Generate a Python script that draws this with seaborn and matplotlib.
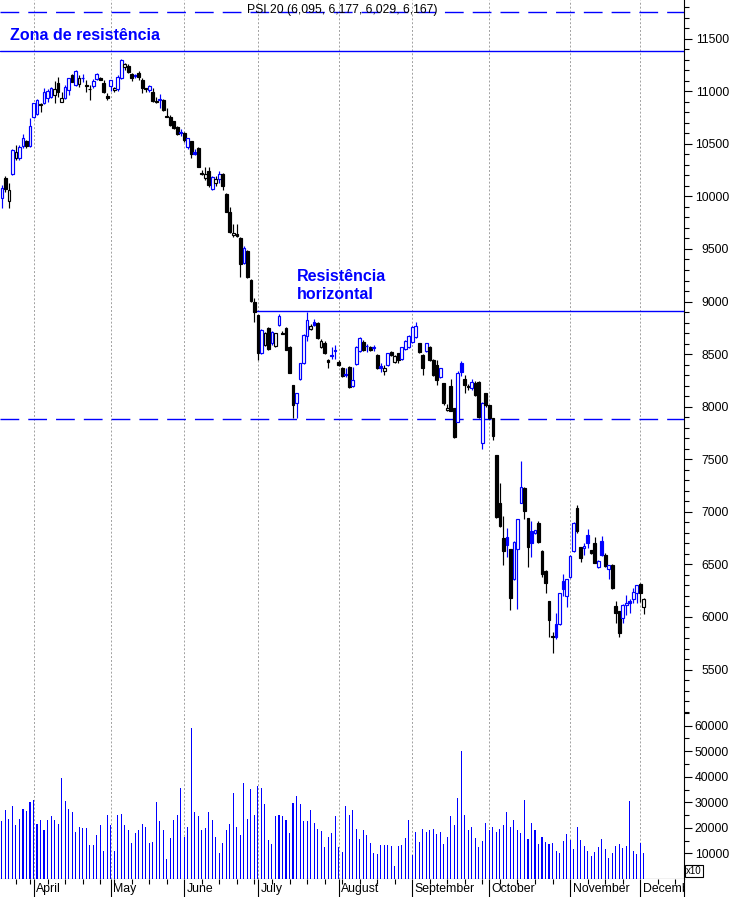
import numpy as np
import pandas as pd
import seaborn as sns
import matplotlib
matplotlib.use("Agg")
import matplotlib.pyplot as plt
from matplotlib.ticker import FixedLocator, StrMethodFormatter

sns.set_theme(style="white")
plt.rcParams['font.family'] = ['Liberation Sans', 'DejaVu Sans']

BLUE = "#0000ff"

# trading days of Euronext Lisbon, 2008
closed_days = pd.to_datetime(["2008-03-21", "2008-03-24", "2008-05-01",
                              "2008-12-25", "2008-12-26"])
cal = pd.bdate_range("2008-03-17", "2008-12-31")
cal = cal[~cal.isin(closed_days)]

# daily PSI 20 candles
opens = [9982, 10172, 9956, 10210, 10368, 10362, 10475, 10527, 10482, 10758,
         10780, 10880, 10886, 10935, 10948, 10965, 11075, 10901, 10939, 11012,
         11155, 11060, 11066, 11130, 11055, 11025, 11053, 11117, 11130, 11075,
         10958, 11053, 11012, 11025, 11130, 11234, 11240, 11161, 11150, 11171,
         11107, 11030, 11012, 10990, 10910, 10930, 10917, 10760, 10752, 10717,
         10663, 10615, 10600, 10473, 10527, 10419, 10457, 10225, 10172, 10242,
         10068, 10125, 10163, 10210, 10023, 9855, 9633, 9640, 9602, 9364,
         9481, 9205, 8998, 8872, 8508, 8587, 8746, 8609, 8577, 8777,
         8705, 8746, 8570, 8206, 8038, 8260, 8413, 8672, 8740, 8808,
         8793, 8571, 8609, 8445, 8490, 8540, 8428, 8365, 8310, 8380,
         8200, 8406, 8533, 8618, 8580, 8570, 8565, 8492, 8385, 8340,
         8396, 8523, 8428, 8508, 8450, 8546, 8565, 8618, 8660, 8603,
         8492, 8533, 8570, 8444, 8400, 8280, 8222, 7969, 8197, 7985,
         7857, 8413, 8260, 8200, 8175, 8228, 8238, 7652, 8127, 8016,
         7890, 7540, 7081, 6748, 6758, 6644, 6358, 6644, 7087, 7229,
         6939, 6820, 6796, 6897, 6630, 6440, 6152, 5815, 5933, 5933,
         6345, 6199, 6383, 6627, 7033, 6668, 6653, 6780, 6637, 6701,
         6472, 6723, 6589, 6460, 6494, 6104, 6060, 5993, 6115, 6150,
         6168, 6231, 6311, 6095]
highs = [10108, 10190, 10125, 10450, 10489, 10490, 10591, 10540, 10743, 10890,
         10925, 10886, 11028, 11020, 11040, 11098, 11139, 10996, 11060, 11130,
         11160, 11200, 11155, 11161, 11107, 11060, 11120, 11170, 11140, 11107,
         10980, 11110, 11040, 11150, 11310, 11266, 11256, 11171, 11165, 11193,
         11130, 11030, 11055, 11028, 10948, 10971, 10930, 10838, 10770, 10720,
         10670, 10641, 10610, 10560, 10530, 10450, 10470, 10250, 10283, 10283,
         10190, 10190, 10242, 10220, 10030, 9902, 9737, 9737, 9617, 9531,
         9490, 9210, 9030, 8875, 8735, 8710, 8760, 8720, 8705, 8882,
         8720, 8760, 8575, 8210, 8130, 8420, 8690, 8903, 8790, 8830,
         8810, 8640, 8620, 8450, 8565, 8585, 8445, 8380, 8370, 8390,
         8380, 8580, 8660, 8630, 8600, 8580, 8590, 8500, 8420, 8395,
         8515, 8530, 8490, 8515, 8570, 8635, 8680, 8770, 8805, 8610,
         8500, 8610, 8580, 8450, 8444, 8370, 8230, 8030, 8260, 7990,
         8340, 8430, 8300, 8215, 8260, 8240, 8240, 8040, 8130, 8020,
         7895, 7545, 7271, 6960, 6843, 6650, 6720, 6930, 7483, 7239,
         6945, 6916, 6830, 6916, 6635, 6445, 6155, 5860, 6035, 6225,
         6412, 6365, 6590, 6900, 7065, 6668, 6701, 6834, 6640, 6764,
         6540, 6770, 6606, 6495, 6500, 6152, 6060, 6120, 6209, 6170,
         6273, 6305, 6326, 6177]
lows = [9893, 10045, 9890, 10200, 10346, 10350, 10460, 10460, 10470, 10750,
        10770, 10806, 10880, 10900, 10940, 10886, 10948, 10901, 10930, 10965,
        11085, 11050, 11043, 11091, 10996, 10917, 11030, 11110, 11105, 10980,
        10917, 11000, 10990, 11000, 11120, 11202, 11171, 11100, 11125, 11107,
        10980, 10990, 10990, 10900, 10886, 10844, 10810, 10752, 10670, 10640,
        10580, 10575, 10520, 10450, 10362, 10394, 10280, 10200, 10160, 10090,
        10060, 10100, 10131, 10061, 9850, 9650, 9617, 9615, 9236, 9355,
        9227, 8995, 8808, 8444, 8500, 8580, 8535, 8590, 8570, 8770,
        8690, 8535, 8320, 7890, 7890, 8250, 8405, 8628, 8730, 8770,
        8640, 8560, 8500, 8365, 8450, 8450, 8390, 8280, 8280, 8180,
        8190, 8395, 8520, 8530, 8523, 8530, 8530, 8360, 8330, 8300,
        8390, 8480, 8420, 8420, 8440, 8540, 8560, 8610, 8650, 8515,
        8300, 8520, 8430, 8290, 8210, 8270, 8015, 7960, 7960, 7700,
        7850, 8290, 8130, 8160, 8160, 8100, 7895, 7596, 8000, 7880,
        7680, 6940, 6860, 6494, 6573, 6066, 6350, 6073, 7080, 6930,
        6478, 6573, 6790, 6700, 6380, 6231, 5807, 5660, 5795, 5920,
        6200, 6092, 6370, 6620, 6795, 6525, 6589, 6660, 6600, 6510,
        6465, 6580, 6472, 6358, 6270, 5940, 5810, 5940, 6020, 6040,
        6135, 6130, 6145, 6029]
closes = [10077, 10070, 10061, 10441, 10419, 10473, 10553, 10480, 10673, 10886,
          10917, 10865, 10996, 11000, 11028, 11020, 10990, 10939, 11043, 11123,
          11091, 11193, 11123, 11125, 11050, 11020, 11098, 11161, 11110, 10996,
          10933, 11107, 11028, 11140, 11300, 11256, 11186, 11123, 11145, 11140,
          11028, 11020, 11050, 10910, 10900, 10920, 10822, 10752, 10679, 10648,
          10594, 10605, 10537, 10553, 10400, 10405, 10283, 10215, 10210, 10108,
          10182, 10166, 10213, 10102, 9855, 9665, 9655, 9625, 9354, 9506,
          9236, 9005, 8903, 8508, 8729, 8698, 8546, 8708, 8698, 8863,
          8695, 8540, 8323, 8016, 8127, 8413, 8682, 8824, 8770, 8777,
          8650, 8625, 8508, 8428, 8480, 8533, 8397, 8292, 8300, 8190,
          8250, 8565, 8650, 8539, 8575, 8539, 8560, 8365, 8372, 8365,
          8508, 8492, 8482, 8444, 8565, 8628, 8672, 8761, 8767, 8523,
          8365, 8603, 8444, 8301, 8254, 8365, 8038, 7985, 7962, 7709,
          8318, 8333, 8206, 8185, 8238, 8111, 7905, 8032, 8016, 7890,
          7721, 6954, 6868, 6630, 6685, 6178, 6716, 6929, 7233, 7011,
          6663, 6700, 6827, 6716, 6409, 6326, 5971, 5805, 5812, 6225,
          6263, 6358, 6580, 6891, 6820, 6558, 6675, 6701, 6611, 6516,
          6535, 6589, 6488, 6490, 6278, 6035, 5850, 6114, 6130, 6135,
          6240, 6304, 6225, 6167]

# daily volume, thousands (chart unit x10)
vol_mar = [22.5, 27, 23.5, 28.5, 21, 23.5, 27.5, 26.5, 30]
vol_apr = [31, 21.5, 23, 19, 23, 24.5, 23, 21.5, 39.5, 30.5, 27.5, 26, 18.5, 20.5,
           20, 20, 13.3, 13.3, 17, 21, 11, 25]
vol_may = [21, 11, 25, 25.5, 21, 19, 14, 18, 19, 21.5, 20.5, 14, 14.5, 30, 22.5,
           19.3, 7.8, 16, 23, 25, 35.5]
vol_jun = [16.5, 20.5, 59, 26, 24.5, 19, 20, 26, 23, 16.5, 10, 14, 19, 21.5, 33.5,
           20.5, 17, 37.5, 23.5, 35.3, 25]
vol_jul = [36.5, 35.7, 29.4, 15.3, 13.7, 24.5, 25.2, 24.5, 23, 18, 29.6, 32.5, 29.4,
           22.7, 22.7, 27, 22, 19.6, 18.8, 12.5, 16.5, 18, 24.5]
vol_aug = [12.5, 10.5, 28.5, 25, 27, 19.6, 15.7, 19.3, 17, 14, 10.1, 9.7, 13.3, 13.3,
           13.3, 13, 5, 13, 13.3, 16, 23]
vol_sep = [9.5, 18.5, 14.5, 19.5, 18.5, 19, 19.5, 17.7, 18.5, 13.5, 16.5, 24.5, 21,
           31.5, 50, 25, 19, 20.5, 16, 12.5, 15, 22]
vol_oct = [19, 20.5, 18.5, 19.5, 21, 26, 20.5, 23, 19, 18, 31, 15.5, 22, 19.3, 13.7,
           16.5, 14.5, 13.7, 14, 11, 10.1, 15, 17.7]
vol_nov = [15.3, 11.8, 20.5, 15.3, 13, 11, 8.8, 10.5, 12.5, 15.7, 11.5, 8.3, 10.1, 13,
           13.7, 12.1, 13, 30.5, 11, 9.7]
vol_dec = [14, 10]

# drawn levels
top_dashed = 11750
zone_line = 11380
resist_line = 8910
resist_from = 71.6
support_dashed = 7880

o = np.array(opens, float)
h = np.array(highs, float)
l = np.array(lows, float)
c = np.array(closes, float)
volume = np.array(vol_mar + vol_apr + vol_may + vol_jun + vol_jul + vol_aug
                  + vol_sep + vol_oct + vol_nov + vol_dec) * 1000
n = len(c)
x = np.arange(n)

W, H = 733, 897
fig = plt.figure(figsize=(W / 100, H / 100), dpi=100)
fig.patch.set_facecolor("white")


def add_ax(left, top, right, bottom):
    return fig.add_axes([left / W, 1 - bottom / H, (right - left) / W, (bottom - top) / H])


ax = add_ax(0, 0, 684, 711.7)
axv = add_ax(0, 711.7, 684, 878.8)
axs = add_ax(0, 878.8, 684, 897)
xlim = (-0.553, 194.49)

# month and week markers
month_start = [i for i in range(1, len(cal)) if cal[i].month != cal[i - 1].month]
wk = cal.isocalendar().week.values
week_start = [i for i in range(1, len(cal)) if wk[i] != wk[i - 1] and i not in month_start]
month_names = [cal[i].strftime("%B") for i in month_start]

for a in (ax, axv):
    for m in month_start:
        a.axvline(m, color="#a0a0a0", lw=0.7, ls=(0, (2, 2)), zorder=0)

# candles
prev = np.r_[c[0], c[:-1]]
colr = np.where(c >= prev, BLUE, "black")
face = np.where(c > o, "white", colr)
ax.vlines(x, l, h, colors=colr, lw=0.85, zorder=2)
ax.bar(x, np.maximum(np.abs(c - o), 1.0), bottom=np.minimum(o, c), width=0.8,
       color=face, edgecolor=colr, linewidth=0.85, zorder=3)

ax.axhline(top_dashed, color=BLUE, lw=1.0, dashes=(13.5, 6.5), zorder=1)
ax.axhline(zone_line, color=BLUE, lw=1.0, zorder=1)
ax.hlines(resist_line, resist_from, xlim[1], color=BLUE, lw=1.0, zorder=1)
ax.axhline(support_dashed, color=BLUE, lw=1.0, dashes=(13.5, 6.5), zorder=1)

ax.set_xlim(xlim)
ax.set_ylim(5099, 11868)

# volume
vdf = pd.DataFrame({"day": x, "volume": volume})
sns.barplot(data=vdf, x="day", y="volume", native_scale=True, color=BLUE,
            saturation=1, width=0.3, linewidth=0, errorbar=None,
            antialiased=False, ax=axv)
axv.set_xlabel("")
axv.set_ylabel("")
axv.set_xlim(xlim)
axv.set_ylim(0, 65500)

# axes styling
ax.yaxis.set_major_locator(FixedLocator(np.arange(5500, 11501, 500)))
ax.yaxis.set_minor_locator(FixedLocator(np.arange(5100, 11900, 100)))
axv.yaxis.set_major_locator(FixedLocator(np.arange(10000, 60001, 10000)))
axv.yaxis.set_minor_locator(FixedLocator(np.arange(5000, 65001, 5000)))
for a in (ax, axv):
    a.set_facecolor("white")
    a.grid(False)
    a.yaxis.set_major_formatter(StrMethodFormatter("{x:.0f}"))
    a.tick_params(axis="x", which="both", bottom=False, labelbottom=False)
    a.tick_params(axis="y", which="major", left=False, labelleft=False, right=True,
                  labelright=True, direction="out", length=5.8, width=0.8,
                  color="black", pad=26.6, labelsize=8.8, labelcolor="black")
    a.tick_params(axis="y", which="minor", left=False, right=True, direction="out",
                  length=3.6, width=0.8, color="black")
    for t in a.yaxis.get_ticklabels():
        t.set_horizontalalignment("right")
    for s in ("left", "top", "bottom"):
        a.spines[s].set_visible(False)
    a.spines["right"].set_color("black")
    a.spines["right"].set_linewidth(0.8)
axv.spines["bottom"].set_visible(True)
axv.spines["bottom"].set_color("black")
axv.spines["bottom"].set_linewidth(0.8)

# bottom month strip
axs.set_xlim(xlim)
axs.set_ylim(0, 1)
axs.set_facecolor("white")
axs.set_xticks([])
axs.set_yticks([])
for s in ("left", "top", "bottom"):
    axs.spines[s].set_visible(False)
axs.spines["right"].set_color("black")
axs.spines["right"].set_linewidth(0.8)
axs.vlines(month_start, 0, 1, color="black", lw=0.8)
axs.vlines(week_start, 1 - 5 / 18.2, 1, color="black", lw=0.8)
for m, name in zip(month_start, month_names):
    axs.text(m + 0.7, 0.44, name, ha="left", va="center", fontsize=8.8,
             color="black", clip_on=True)

# texts
title = "PSI 20 ({:,.0f}, {:,.0f}, {:,.0f}, {:,.0f})".format(o[-1], h[-1], l[-1], c[-1])
fig.text(342 / W, 1 - 10.5 / H, title, ha="center", va="center", fontsize=8.7,
         color="black")
fig.text(10 / W, 1 - 39.5 / H, "Zona de resistência", color=BLUE, fontsize=11.5,
         fontweight="bold", va="baseline")
fig.text(297.3 / W, 1 - 280.7 / H, "Resistência", color=BLUE, fontsize=11.5,
         fontweight="bold", va="baseline")
fig.text(297.3 / W, 1 - 299.3 / H, "horizontal", color=BLUE, fontsize=11.5,
         fontweight="bold", va="baseline")
fig.text(686 / W, 1 - 871 / H, "x10", ha="left", va="center", fontsize=7,
         color="black", bbox=dict(boxstyle="square,pad=0.15", fc="white", ec="black", lw=0.8))

fig.savefig("out.png", dpi=100, facecolor="white")
